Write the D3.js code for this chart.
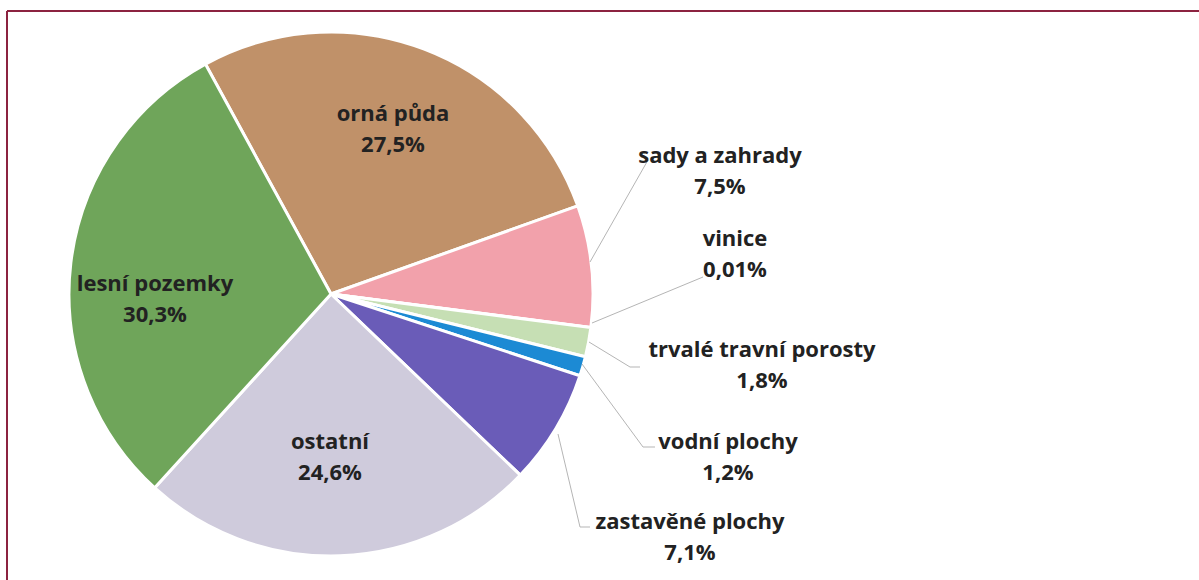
<!DOCTYPE html>
<html>
<head>
<meta charset="utf-8">
<script src="https://cdn.jsdelivr.net/npm/d3@7"></script>
<style>
  body { margin: 0; background: #fff; }
  text { font-family: "Open Sans", Lato, sans-serif; font-weight: bold; fill: #222; }
</style>
</head>
<body>
<div id="piechart"></div>
<script>
const categories = ["orná půda", "sady a zahrady", "vinice", "trvalé travní porosty",
                    "vodní plochy", "zastavěné plochy", "ostatní", "lesní pozemky"];
const shares = [27.5, 7.5, 0.01, 1.8, 1.2, 7.1, 24.6, 30.3];
const shareLabels = ["27,5%", "7,5%", "0,01%", "1,8%", "1,2%", "7,1%", "24,6%", "30,3%"];
const colors = ["#c09169", "#f2a1ab", "#e8c4c8", "#c6dfb4", "#1c8ad4", "#6a5cb8", "#cfcbdc", "#6fa55a"];

// label placement: inside labels sit on the slice, outside ones at fixed spots with a leader
const labelPos = [
  {x: 393, y: 113, inside: true},
  {x: 720, y: 155, line: [[590, 262], [648, 160]]},
  {x: 735, y: 238, line: [[592, 323], [703, 277]]},
  {x: 762, y: 349, line: [[589, 342], [630, 367], [640, 367]]},
  {x: 728, y: 441, line: [[582, 364], [643, 447], [655, 447]]},
  {x: 690, y: 521, line: [[558, 434], [580, 527], [590, 527]]},
  {x: 330, y: 441, inside: true},
  {x: 155, y: 283, inside: true}
];

const width = 1199, height = 580;
const cx = 331, cy = 294, radius = 262;

const svg = d3.select("#piechart").append("svg")
  .attr("width", width).attr("height", height);

// frame lines (top and left)
svg.append("line").attr("x1", 7).attr("x2", width).attr("y1", 11).attr("y2", 11)
  .attr("stroke", "#8c2340").attr("stroke-width", 2);
svg.append("line").attr("x1", 7).attr("x2", 7).attr("y1", 11).attr("y2", height)
  .attr("stroke", "#8c2340").attr("stroke-width", 2);

const data = categories.map(function(c, i) { return {key: c, value: shares[i], i: i}; });

const pie = d3.pie().sort(null).value(function(d) { return d.value; })
  .startAngle(-0.5).endAngle(-0.5 + 2 * Math.PI);

const arc = d3.arc().innerRadius(0).outerRadius(radius);

const g = svg.append("g").attr("transform", "translate(" + cx + "," + cy + ")");

g.selectAll("path").data(pie(data)).enter().append("path")
  .attr("d", arc)
  .attr("fill", function(d) { return colors[d.data.i]; })
  .attr("stroke", "#fff")
  .attr("stroke-width", 3)
  .attr("stroke-linejoin", "round");

// leader lines
const lineGen = d3.line();
labelPos.forEach(function(p) {
  if (p.line) {
    svg.append("path").attr("d", lineGen(p.line))
      .attr("fill", "none").attr("stroke", "#b5b5b5").attr("stroke-width", 1);
  }
});

// labels
data.forEach(function(d, i) {
  const p = labelPos[i];
  const t = svg.append("text").attr("text-anchor", "middle").style("font-size", "22px");
  t.append("tspan").attr("x", p.x).attr("y", p.y + 8).text(d.key);
  t.append("tspan").attr("x", p.x).attr("y", p.y + 39).text(shareLabels[i]);
});
</script>
</body>
</html>
